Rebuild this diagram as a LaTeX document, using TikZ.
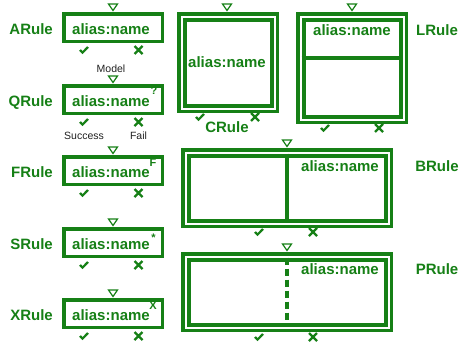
\documentclass[tikz,border=0pt]{standalone}
\usepackage{fontspec}
\setmainfont{Liberation Sans}
\usetikzlibrary{calc}
\definecolor{rg}{RGB}{22,128,22}
\definecolor{tx}{RGB}{34,34,34}
\begin{document}
\begin{tikzpicture}[x=1pt,y=-1pt,
  lbl/.style={font=\fontsize{15}{18}\selectfont\bfseries, text=rg, inner sep=0},
  sup/.style={font=\fontsize{11}{12}\selectfont\bfseries, text=rg, inner sep=0},
  note/.style={font=\fontsize{10.5}{12}\selectfont, text=tx, inner sep=0},
  rbox/.style={draw=rg, line width=3.5pt, inner sep=0, minimum width=98.5pt, minimum height=27.5pt},
  outerbox/.style={draw=rg, line width=3.5pt, inner sep=0},
  innerbox/.style={draw=rg, line width=4pt, inner sep=0},
  pics/okmark/.style={code={\draw[rg, line width=2.2pt, line join=miter] (-4,0) -- (-1.5,2.6) -- (4,-3);}},
  pics/failmark/.style={code={\draw[rg, line width=2.2pt] (-4,-4) -- (4,4) (-4,4) -- (4,-4);}},
  pics/entrymark/.style={code={\draw[rg, line width=1.2pt, fill=white, line join=miter] (-4.5,-6.5) -- (4.5,-6.5) -- (0,0) -- cycle;}}
]
\useasboundingbox[fill=white] (0,0) rectangle (463,343);

% ---------- left column ----------
\node[rbox] (ra) at (113,27.5) {};
\node[rbox] (rq) at (113,99.5) {};
\node[rbox] (rf) at (113,170.5) {};
\node[rbox] (rs) at (113,242.5) {};
\node[rbox] (rx) at (113,313.5) {};

\node[lbl, anchor=base] (ta) at (111,34) {alias:name};
\node[lbl, anchor=base] (tq) at (111,106) {alias:name};
\node[lbl, anchor=base] (tf) at (111,177) {alias:name};
\node[lbl, anchor=base] (ts) at (111,249) {alias:name};
\node[lbl, anchor=base] (tx) at (111,320) {alias:name};

\node[sup, anchor=base] (sq) at (154,94.5) {?};
\node[sup, anchor=base] (sf) at (153,166) {F};
\node[sup, anchor=base] (ss) at (153.5,241) {*};
\node[sup, anchor=base] (sx) at (153,309) {X};

\node[lbl, anchor=base east] (la) at (53,34) {ARule};
\node[lbl, anchor=base east] (lq) at (53,106) {QRule};
\node[lbl, anchor=base east] (lf) at (53,177) {FRule};
\node[lbl, anchor=base east] (ls) at (53,249) {SRule};
\node[lbl, anchor=base east] (lx) at (53,320) {XRule};

\node[note, anchor=base] (model) at (111,72) {Model};
\node[note, anchor=base] (succ) at (84,139) {Success};
\node[note, anchor=base] (fail) at (138.5,139) {Fail};

\foreach \b in {ra,rq,rf,rs,rx}{
  \pic at ($(\b.north)+(0,-1.5)$) {entrymark};
  \pic at ($(\b.south)+(-29,7)$) {okmark};
  \pic at ($(\b.south)+(25.5,7)$) {failmark};
}

% ---------- CRule ----------
\node[outerbox, minimum width=98.5pt, minimum height=97.5pt] (co) at (228,62.5) {};
\node[innerbox, minimum width=87pt, minimum height=86pt] (ci) at (228,62.5) {};
\node[lbl, anchor=base] (ct) at (227,67.5) {alias:name};
\node[lbl, anchor=base] (cl) at (227,132.5) {CRule};
\pic at ($(co.north)+(-1,-1.5)$) {entrymark};
\pic at ($(co.south)+(-28,4)$) {okmark};
\pic at ($(co.south)+(27,4)$) {failmark};

% ---------- LRule ----------
\node[outerbox, minimum width=108.5pt, minimum height=108.5pt] (lo) at (352,68) {};
\node[innerbox, minimum width=97pt, minimum height=97pt] (li) at (352,68) {};
\draw[rg, line width=3.5pt] (li.west |- 0,58) coordinate (ld1) -- (li.east |- 0,58) coordinate (ld2);
\node[lbl, anchor=base] (lt) at (352,35.5) {alias:name};
\node[lbl, anchor=base] (ll) at (437,35.5) {LRule};
\pic at ($(lo.north)+(0,-1.5)$) {entrymark};
\pic at ($(lo.south)+(-27,4)$) {okmark};
\pic at ($(lo.south)+(27,4)$) {failmark};

% ---------- BRule ----------
\node[outerbox, minimum width=208.5pt, minimum height=76.5pt] (bo) at (287,188) {};
\node[innerbox, minimum width=197pt, minimum height=65pt] (bi) at (287,188) {};
\draw[rg, line width=3.5pt] (bi.north) -- (bi.south);
\node[lbl, anchor=base] (bt) at (340,171.5) {alias:name};
\node[lbl, anchor=base] (bl) at (437,171.5) {BRule};
\pic at ($(bo.north)+(0,-1.5)$) {entrymark};
\pic at ($(bo.south)+(-28,4)$) {okmark};
\pic at ($(bo.south)+(26,4)$) {failmark};

% ---------- PRule ----------
\node[outerbox, minimum width=208.5pt, minimum height=76.5pt] (po) at (287,292) {};
\node[innerbox, minimum width=197pt, minimum height=65pt] (pi) at (287,292) {};
\draw[rg, line width=4pt, dash pattern=on 7pt off 4pt] (pi.north) -- (pi.south);
\node[lbl, anchor=base] (pt) at (340,274.5) {alias:name};
\node[lbl, anchor=base] (pl) at (437,274.5) {PRule};
\pic at ($(po.north)+(0,-1.5)$) {entrymark};
\pic at ($(po.south)+(-28,5)$) {okmark};
\pic at ($(po.south)+(26,5)$) {failmark};
\end{tikzpicture}
\end{document}
